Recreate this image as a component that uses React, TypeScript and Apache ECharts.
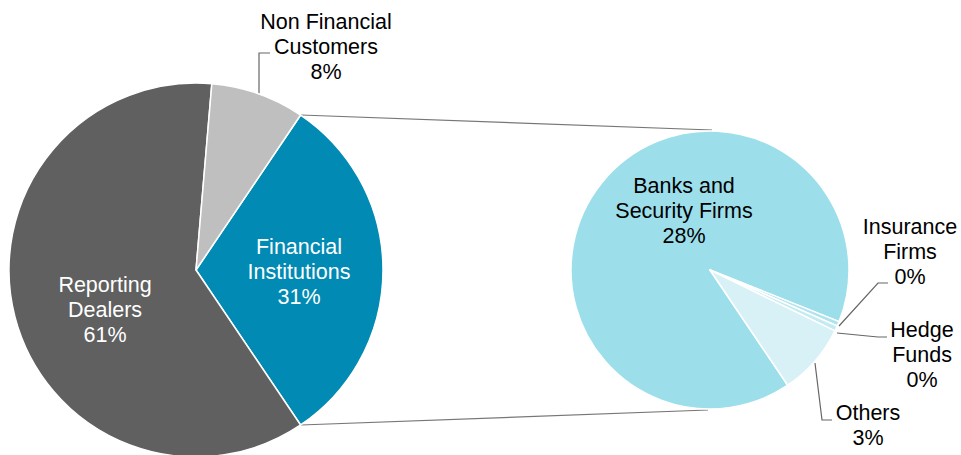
import React, { useEffect, useRef } from "react";
import * as echarts from "echarts";

// ---- data ----
const mainCategories = ["Financial\nInstitutions", "Reporting\nDealers", "Non Financial\nCustomers"];
const mainValues = [31.1, 60.8, 8.1];
const mainColors = ["#008ab4", "#606060", "#bfbfbf"];
const mainLabelColors = ["#ffffff", "#ffffff", "#000000"];

const subCategories = ["Banks and\nSecurity Firms", "Insurance\nFirms", "Hedge\nFunds", "Others"];
const subValues = [28.2, 0.17, 0.19, 2.6];
const subColors = ["#9cdfeb", "#aee4ee", "#c4ebf2", "#d8f1f6"];

// ---- layout ----
const W = 961;
const H = 455;
const leftCenter = [196, 270];
const leftRadius = 187;
const rightCenter = [710, 270];
const rightRadius = 139;
const rightStartAngle = -56;

const mainLabelAt = [[299, 272], [105, 310], [326, 47]];
const mainLinePts: (number[][] | null)[] = [null, null, [[259, 94], [259, 53], [270, 53]]];
const subLabelAt = [[684, 211], [910, 252], [922, 355], [868, 425]];
const subLinePts: (number[][] | null)[] = [
  null,
  [[839, 326], [878, 283], [888, 283]],
  [[837, 333], [878, 337], [887, 337]],
  [[815, 363], [822, 420], [832, 420]],
];

const FONT = "'Liberation Sans', Arial, sans-serif";

export default function App() {
  const ref = useRef<HTMLDivElement>(null);
  useEffect(() => {
    document.body.style.margin = "0";
    const chart = echarts.init(ref.current!, null, { renderer: "svg" });
    const total = mainValues.reduce((a, b) => a + b, 0);
    const leftStart = (360 * mainValues[0]) / total / 2;
    const a = (leftStart * Math.PI) / 180;
    const ex = leftCenter[0] + leftRadius * Math.cos(a);
    const eyTop = leftCenter[1] - leftRadius * Math.sin(a);
    const eyBot = leftCenter[1] + leftRadius * Math.sin(a);

    const baseLabel = {
      show: true,
      position: "outside",
      fontFamily: FONT,
      fontSize: 21.5,
      lineHeight: 25,
      color: "#000",
      align: "center",
      width: 300,
      overflow: "none",
      formatter: (p: any) => `${p.name}\n${Math.round(p.value)}%`,
    };

    const makeLayout = (at: number[][], pts: (number[][] | null)[]) => (params: any) => {
      const i = params.dataIndex;
      const res: any = { x: at[i][0], y: at[i][1], align: "center", verticalAlign: "middle" };
      if (pts[i]) res.labelLinePoints = pts[i];
      return res;
    };

    chart.setOption({
      animation: false,
      backgroundColor: "#ffffff",
      graphic: [
        {
          type: "line",
          z: 0,
          shape: { x1: ex, y1: eyTop, x2: rightCenter[0] + 2, y2: rightCenter[1] - rightRadius - 1 },
          style: { stroke: "#777777", lineWidth: 1.2 },
        },
        {
          type: "line",
          z: 0,
          shape: { x1: ex, y1: eyBot, x2: rightCenter[0] - 2, y2: rightCenter[1] + rightRadius + 1 },
          style: { stroke: "#777777", lineWidth: 1.2 },
        },
      ],
      series: [
        {
          type: "pie",
          center: leftCenter,
          radius: leftRadius,
          startAngle: leftStart,
          clockwise: true,
          avoidLabelOverlap: false,
          silent: true,
          itemStyle: { borderColor: "#ffffff", borderWidth: 1.5 },
          label: baseLabel,
          labelLine: { show: true, lineStyle: { color: "#666666", width: 1.2 } },
          labelLayout: makeLayout(mainLabelAt, mainLinePts),
          data: mainCategories.map((name, i) => ({
            name,
            value: mainValues[i],
            itemStyle: { color: mainColors[i] },
            label: { color: mainLabelColors[i] },
            labelLine: { show: !!mainLinePts[i] },
          })),
        },
        {
          type: "pie",
          center: rightCenter,
          radius: rightRadius,
          startAngle: rightStartAngle,
          clockwise: true,
          avoidLabelOverlap: false,
          silent: true,
          itemStyle: { borderColor: "#ffffff", borderWidth: 1.5 },
          label: baseLabel,
          labelLine: { show: true, lineStyle: { color: "#666666", width: 1.2 } },
          labelLayout: makeLayout(subLabelAt, subLinePts),
          data: subCategories.map((name, i) => ({
            name,
            value: subValues[i],
            itemStyle: { color: subColors[i] },
            labelLine: { show: !!subLinePts[i] },
          })),
        },
      ],
    });
    return () => chart.dispose();
  }, []);
  return <div ref={ref} style={{ width: W, height: H }} />;
}
